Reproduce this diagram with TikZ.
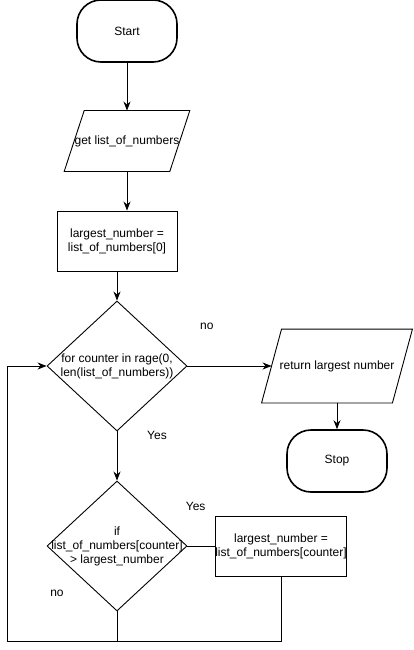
\documentclass[tikz,border=0pt]{standalone}
\usepackage{fontspec}
\setmainfont{Liberation Sans}
\usetikzlibrary{arrows.meta,shapes.geometric}
\tikzset{
  terminal/.style={draw, line width=1.6pt, rounded corners=24pt, minimum width=100pt, minimum height=62pt},
  io/.style={minimum width=100pt, minimum height=60pt, inner sep=0pt,
    append after command={\pgfextra{\draw ([xshift=-10pt]\tikzlastnode.south west) -- ([xshift=-10pt]\tikzlastnode.south east) -- ([xshift=10pt]\tikzlastnode.north east) -- ([xshift=10pt]\tikzlastnode.north west) -- cycle;}}},
  process/.style={draw, minimum width=120pt, minimum height=60pt, align=center, inner sep=0pt},
  decision/.style={draw, diamond, minimum width=140pt, minimum height=130pt, inner sep=0pt},
  arr/.style={-{Stealth[length=9pt,width=7pt]}},
}
\begin{document}
\begin{tikzpicture}[x=1pt,y=-1pt,font=\fontsize{12}{14}\selectfont,line width=0.9pt]
\useasboundingbox (0,0) rectangle (413,650);
% nodes
\node[terminal] (start) at (127,31) {Start};
\node[io] (get) at (127,141) {get list\_of\_numbers};
\node[process] (init) at (117,241) {largest\_number =\\list\_of\_numbers[0]};
\node[decision, label={[align=center]center:for counter in rage(0,\\len(list\_of\_numbers))}] (loop) at (117,366) {};
\node[io, minimum width=130pt, minimum height=73pt] (ret) at (337,366) {return largest number};
\node[terminal] (stop) at (337,461) {Stop};
\node[decision, label={[align=center]center:if\\list\_of\_numbers[counter]\\> largest\_number}] (test) at (117,546) {};
\node[process] (upd) at (281,546) {largest\_number =\\list\_of\_numbers[counter]};
\coordinate (back) at (7,641);
% connectors
\draw[arr] (start) -- (get);
\draw[arr] (get.south) -- (get.south|-init.north);
\draw[arr] (init) -- (loop);
\draw[arr] (loop.east) -- (ret.west) node[pos=0.23,yshift=40pt]{no};
\draw[arr] (ret) -- (stop);
\draw[arr] (loop.south) -- (test.north) node[pos=0.08,xshift=40pt]{Yes};
\draw (test.east) -- (upd.west) node[pos=0.3,yshift=40pt]{Yes};
\draw[arr] (upd.south) |- (back) |- (loop.west);
\draw (test.south) -- (test.south|-back) node[pos=-0.6,xshift=-60pt]{no};
\end{tikzpicture}
\end{document}
